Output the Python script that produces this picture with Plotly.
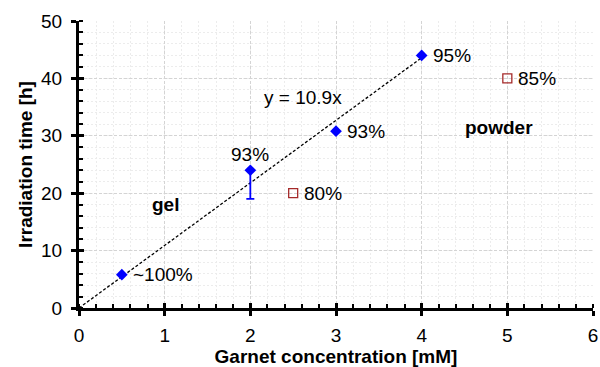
import plotly.graph_objects as go

# ---- data ----
gel_x = [0.5, 2, 3, 4]
gel_y = [5.8, 24, 30.8, 44]
gel_err_minus = [0, 5, 0, 0]
gel_labels = ["~100%", "93%", "93%", "95%"]

pow_x = [2.5, 5]
pow_y = [20, 40]
pow_labels = ["80%", "85%"]

fit_slope = 10.9
fit_x = [0, 4]
fit_y = [fit_slope * v for v in fit_x]

FONT = "Liberation Sans, Arial, sans-serif"
FS = 19
fig = go.Figure()

fig.add_trace(go.Scatter(x=fit_x, y=fit_y, mode="lines",
                         line=dict(color="black", width=1.3, dash="3px,2px"),
                         showlegend=False, hoverinfo="skip"))
fig.add_trace(go.Scatter(x=gel_x, y=gel_y, mode="markers",
                         marker=dict(symbol="diamond", color="#0000FF", size=9),
                         error_y=dict(type="data", symmetric=False, array=[0]*4,
                                      arrayminus=gel_err_minus, color="#0000FF",
                                      thickness=1.8, width=4),
                         showlegend=False))
fig.add_trace(go.Scatter(x=pow_x, y=pow_y, mode="markers",
                         marker=dict(symbol="square-open", color="#A52A2A", size=9,
                                     line=dict(width=1.3)),
                         showlegend=False))
# invisible trace to create overlay axes for inside halves of major ticks
fig.add_trace(go.Scatter(x=[0], y=[0], xaxis="x2", yaxis="y2", mode="markers",
                         marker=dict(opacity=0), showlegend=False, hoverinfo="skip"))

tf = dict(size=FS, family=FONT, color="black")
for i, (x, y, t) in enumerate(zip(gel_x, gel_y, gel_labels)):
    if i == 1:
        fig.add_annotation(x=x, y=y, text=t, showarrow=False, xanchor="center",
                           yanchor="bottom", yshift=3, font=tf)
    else:
        fig.add_annotation(x=x, y=y, text=t, showarrow=False, xanchor="left",
                           xshift=9, font=tf)
for x, y, t in zip(pow_x, pow_y, pow_labels):
    fig.add_annotation(x=x, y=y, text=t, showarrow=False, xanchor="left",
                       xshift=9, font=tf)

fig.add_annotation(x=2.14, y=36.7, text="y = 10.9x", showarrow=False, xanchor="left", font=tf)
fig.add_annotation(x=1.01, y=18.0, text="<b>gel</b>", showarrow=False, font=tf)
fig.add_annotation(x=4.9, y=31.5, text="<b>powder</b>", showarrow=False, font=tf)

common = dict(showline=True, linecolor="black", linewidth=3, zeroline=False,
              ticks="outside", ticklen=5, tickwidth=2.5, tickcolor="black",
              tickfont=tf, automargin=False,
              showgrid=True, gridcolor="#d4d4d4", griddash="3px,2px", gridwidth=1)

fig.update_layout(
    width=600, height=367,
    margin=dict(l=79, r=7, t=21, b=59, autoexpand=False),
    paper_bgcolor="white", plot_bgcolor="white",
    xaxis=dict(range=[0, 6], dtick=1, tick0=0,
               title=dict(text="<b>Garnet concentration [mM]</b>", standoff=4, font=tf),
               ticklabelstandoff=3,
               minor=dict(dtick=0.2, ticks="inside", ticklen=4, tickwidth=2, tickcolor="black",
                          showgrid=True, gridcolor="#ececec", griddash="2px,2px", gridwidth=1),
               **common),
    yaxis=dict(range=[0, 50], dtick=10, tick0=0,
               title=dict(text="<b>Irradiation time [h]</b>", standoff=4, font=tf),
               ticklabelstandoff=5,
               minor=dict(dtick=2, ticks="inside", ticklen=4, tickwidth=2, tickcolor="black",
                          showgrid=True, gridcolor="#ececec", griddash="2px,2px", gridwidth=1),
               **common),
    xaxis2=dict(overlaying="x", anchor="y2", range=[0, 6], dtick=1, tick0=0,
                ticks="inside", ticklen=5, tickwidth=2.5, tickcolor="black",
                showticklabels=False, showgrid=False, zeroline=False, showline=False),
    yaxis2=dict(overlaying="y", anchor="x2", range=[0, 50], dtick=10, tick0=0,
                ticks="inside", ticklen=5, tickwidth=2.5, tickcolor="black",
                showticklabels=False, showgrid=False, zeroline=False, showline=False),
)

fig.write_html("out.html")
